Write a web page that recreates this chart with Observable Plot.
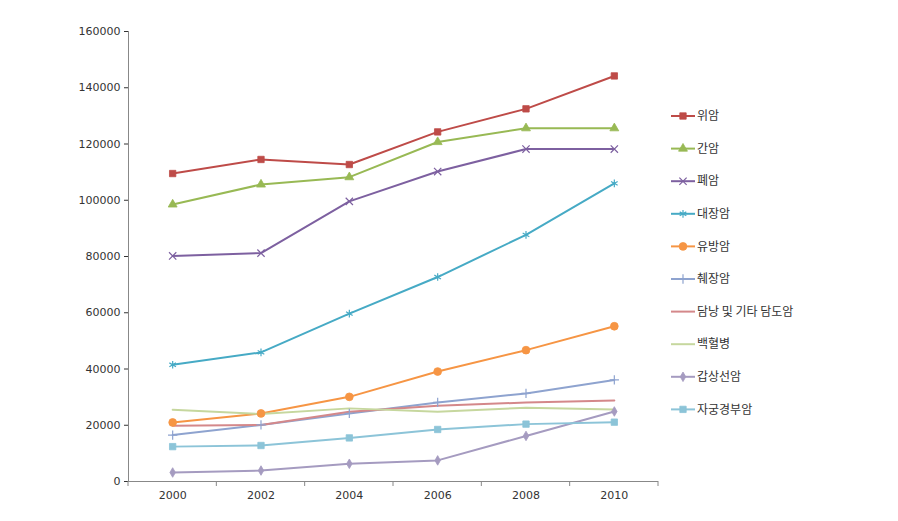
<!DOCTYPE html>
<html><head><meta charset="utf-8">
<script src="https://cdn.jsdelivr.net/npm/d3@7"></script>
<script src="https://cdn.jsdelivr.net/npm/@observablehq/plot@0.6"></script>
<style>
html,body{margin:0;padding:0;background:#fff;}
#wrap{position:relative;width:898px;height:521px;}
#legend{position:absolute;left:0;top:0;}
</style></head><body>
<div id="wrap"><div id="chart"></div><svg id="legend" width="898" height="521"></svg></div>
<script>
const years = [2000, 2002, 2004, 2006, 2008, 2010];
const series = ["위암","간암","폐암","대장암","유방암","췌장암","담낭 및 기타 담도암","백혈병","갑상선암","자궁경부암"];
const stomach = [109500, 114500, 112700, 124300, 132500, 144200];
const liver = [98500, 105600, 108200, 120700, 125600, 125600];
const lung = [80200, 81200, 99600, 110200, 118200, 118200];
const colorectal = [41500, 45900, 59700, 72700, 87700, 106000];
const breast = [21000, 24200, 30100, 39100, 46700, 55200];
const pancreas = [16500, 20100, 24200, 28100, 31300, 36100];
const gallbladder = [19800, 20100, 24800, 26900, 28100, 28800];
const leukemia = [25500, 24000, 26000, 24800, 26200, 25600];
const thyroid = [3200, 3900, 6300, 7500, 16200, 24900];
const cervix = [12400, 12800, 15500, 18500, 20400, 21100];
const values = [stomach, liver, lung, colorectal, breast, pancreas, gallbladder, leukemia, thyroid, cervix];
const colors = ["#BE4B48","#98B954","#7D60A0","#46AAC5","#F69544","#8EA3CF","#D4888A","#C6D79E","#A59BC0","#8CC4D8"];
const symbols = ["square","triangle","times","asterisk","circle","plus",null,null,"diamond","square"];
const yTicks = [0,20000,40000,60000,80000,100000,120000,140000,160000];
const xEdges = [1999,2001,2003,2005,2007,2009,2011];

const rows = [];
series.forEach((s,i)=>years.forEach((y,j)=>rows.push({series:s, year:y, value:values[i][j], i})));

const filledSyms = ["square","triangle","circle","diamond"];
const symSize = {square:3.6, triangle:3.3, times:3.4, asterisk:3.6, circle:3.9, plus:3.1, diamond:2.9};
const marks = [
  Plot.ruleY([0], {stroke:"#888"}),
  Plot.ruleX([1999], {stroke:"#888"}),
  Plot.line(rows, {x:"year", y:"value", z:"series", stroke:"series", strokeWidth:2})
];
series.forEach((s,i)=>{
  const sym = symbols[i];
  if(!sym) return;
  const d = rows.filter(r=>r.i===i);
  const filled = filledSyms.includes(sym);
  marks.push(Plot.dot(d, {x:"year", y:"value", symbol:()=>sym, r: symSize[sym],
    fill: filled ? colors[i] : "none", stroke: colors[i], strokeWidth: filled?0.8:1.2}));
});

const chart = Plot.plot({
  width: 665, height: 521,
  marginLeft: 128, marginRight: 7, marginTop: 31, marginBottom: 40,
  style: {fontFamily: "DejaVu Sans", fontSize: "11px", color: "#333", background: "#fff"},
  x: {type:"linear", domain:[1999,2011], ticks: years, tickFormat: d=>String(d), tickSize:0, tickPadding:10, label:null},
  y: {domain:[0,160000], ticks: yTicks, tickFormat: d3.format("d"), tickSize:4, tickPadding:4, label:null},
  color: {domain: series, range: colors},
  symbol: {type:"identity"},
  marks
});
document.getElementById("chart").appendChild(chart);

const xs = chart.scale("x"), ysc = chart.scale("y");
const tg = d3.select(chart).append("g");
xEdges.forEach(e=>{
  const px = xs.apply(e), py = ysc.apply(0);
  tg.append("line").attr("x1",px).attr("x2",px).attr("y1",py).attr("y2",py+5).attr("stroke","#888");
});

// legend
const leg = d3.select("#legend");
const symMap = {square:d3.symbolSquare, triangle:d3.symbolTriangle, times:d3.symbolTimes, asterisk:d3.symbolAsterisk, circle:d3.symbolCircle, plus:d3.symbolPlus, diamond:d3.symbolDiamond};
series.forEach((s,i)=>{
  const cy = 116 + i*32.6;
  const g = leg.append("g").attr("transform",`translate(671,${cy})`);
  g.append("line").attr("x1",0).attr("x2",24).attr("y1",0).attr("y2",0).attr("stroke",colors[i]).attr("stroke-width",2);
  const sym = symbols[i];
  if(sym){
    const filled = filledSyms.includes(sym);
    const r = symSize[sym];
    g.append("path").attr("transform","translate(12,0)").attr("d", d3.symbol(symMap[sym], Math.PI*r*r)())
      .attr("fill", filled?colors[i]:"none").attr("stroke",colors[i]).attr("stroke-width",filled?0.8:1.2);
  }
  g.append("text").attr("x",26).attr("y",0).attr("dy","0.35em").attr("font-family","'Noto Sans CJK KR'").attr("font-size","12px").attr("fill","#333").text(s);
});
</script>
</body></html>
